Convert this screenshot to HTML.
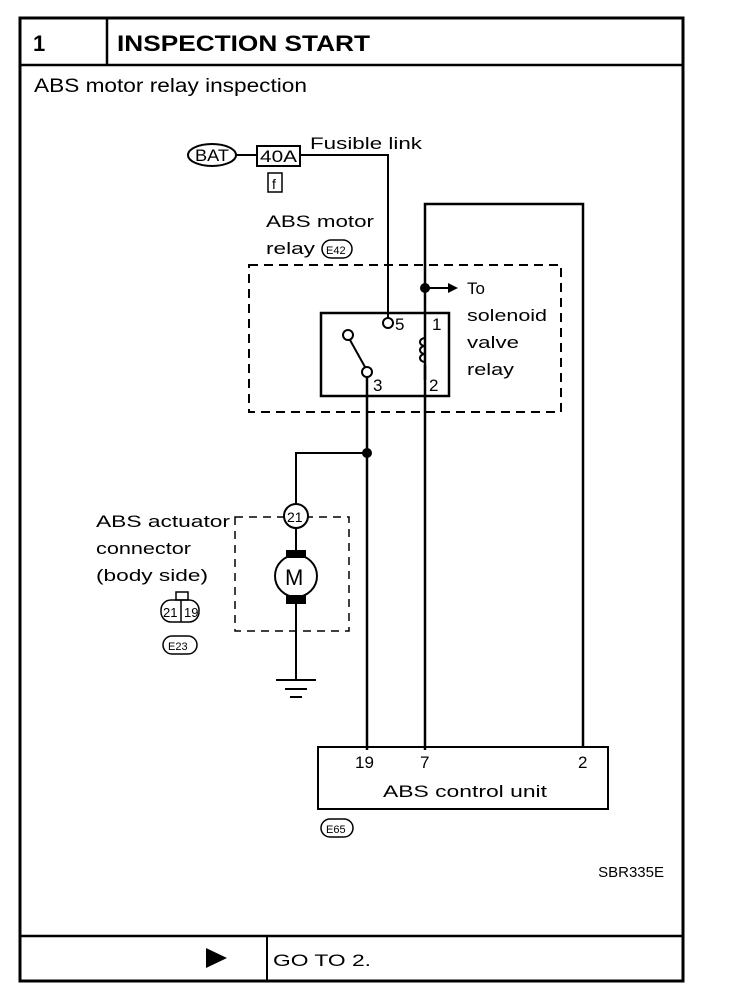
<!DOCTYPE html>
<html><head><style>
body{margin:0;background:#fff;}
svg{display:block;font-family:"Liberation Sans",sans-serif;}
</style></head><body>
<svg width="736" height="998" viewBox="0 0 736 998" xmlns="http://www.w3.org/2000/svg">
<g fill="none" stroke="#000">
<rect x="20" y="18" width="663" height="963" stroke-width="3"/>
<line x1="20" y1="65" x2="683" y2="65" stroke-width="2.5"/>
<line x1="107" y1="18" x2="107" y2="65" stroke-width="2.5"/>
<line x1="20" y1="936" x2="683" y2="936" stroke-width="2.5"/>
<line x1="267" y1="936" x2="267" y2="981" stroke-width="2"/>
</g>
<text x="33" y="51" font-size="22" font-weight="bold">1</text>
<text x="117" y="51" font-size="22" font-weight="bold" textLength="253" lengthAdjust="spacingAndGlyphs">INSPECTION START</text>
<text x="34" y="92" font-size="19" textLength="273" lengthAdjust="spacingAndGlyphs">ABS motor relay inspection</text>
<polygon points="206,948 227,958 206,968" fill="#000"/>
<text x="273" y="966" font-size="17" textLength="98" lengthAdjust="spacingAndGlyphs">GO TO 2.</text>

<g fill="none" stroke="#000" stroke-width="2">
<ellipse cx="212" cy="155" rx="24" ry="11"/>
<line x1="236" y1="155" x2="257" y2="155"/>
<rect x="257" y="146" width="43" height="20"/>
<rect x="268" y="173" width="14" height="19" stroke-width="1.5"/>
<polyline points="300,155 388,155 388,318"/>
<polyline points="425,380 425,204 583,204 583,748" stroke-width="2.5"/>
<rect x="249" y="265" width="312" height="147" stroke-dasharray="9,6"/>
<rect x="321" y="313" width="128" height="83" stroke-width="2.5"/>
<line x1="425" y1="365" x2="425" y2="750" stroke-width="2.5"/>
<line x1="367" y1="377" x2="367" y2="750" stroke-width="2.5"/>
<path d="M425,338 a5,4 0 0 0 0,8 a5,4 0 0 0 0,8 a5,4 0 0 0 0,8" />
<line x1="425" y1="288" x2="452" y2="288"/>
<polyline points="367,453 296,453 296,504"/>
<rect x="235" y="517" width="114" height="114" stroke-dasharray="8,6" stroke-width="1.5"/>
<line x1="296" y1="528" x2="296" y2="552"/>
<line x1="296" y1="604" x2="296" y2="680"/>
<line x1="276" y1="680" x2="316" y2="680"/>
<line x1="285" y1="689" x2="307" y2="689"/>
<line x1="290" y1="697" x2="302" y2="697"/>
<rect x="176" y="592" width="12" height="8" stroke-width="1.5"/>
<rect x="161" y="600" width="38" height="22" rx="10" stroke-width="1.5"/>
<line x1="181" y1="600" x2="181" y2="622" stroke-width="1.5"/>
<rect x="163" y="636" width="34" height="18" rx="9" stroke-width="1.5"/>
<rect x="322" y="240" width="30" height="18" rx="9" stroke-width="1.5"/>
<rect x="318" y="747" width="290" height="62" stroke-width="2"/>
<rect x="321" y="819" width="32" height="18" rx="9" stroke-width="1.5"/>
</g>
<g fill="#fff" stroke="#000" stroke-width="2">
<circle cx="388" cy="323" r="5"/>
<circle cx="348" cy="335" r="5"/>
<circle cx="367" cy="372" r="5"/>
<line x1="350" y1="340" x2="365" y2="367"/>
<circle cx="296" cy="516" r="12"/>
<circle cx="296" cy="576" r="21"/>
</g>
<rect x="286" y="550" width="20" height="8" fill="#000"/>
<rect x="286" y="595" width="20" height="9" fill="#000"/>
<circle cx="425" cy="288" r="5" fill="#000"/>
<circle cx="367" cy="453" r="5" fill="#000"/>
<polygon points="448,283 458,288 448,293" fill="#000"/>
<g font-size="17">
<text x="195" y="161" textLength="34" lengthAdjust="spacingAndGlyphs">BAT</text>
<text x="260" y="162" textLength="37" lengthAdjust="spacingAndGlyphs">40A</text>
<text x="272" y="189" font-size="14">f</text>
<text x="310" y="149" textLength="112" lengthAdjust="spacingAndGlyphs">Fusible link</text>
<text x="266" y="227" textLength="108" lengthAdjust="spacingAndGlyphs">ABS motor</text>
<text x="266" y="254" textLength="49" lengthAdjust="spacingAndGlyphs">relay</text>
<text x="326" y="254" font-size="11">E42</text>
<text x="467" y="294">To</text>
<text x="467" y="321" textLength="80" lengthAdjust="spacingAndGlyphs">solenoid</text>
<text x="467" y="348" textLength="52" lengthAdjust="spacingAndGlyphs">valve</text>
<text x="467" y="375" textLength="47" lengthAdjust="spacingAndGlyphs">relay</text>
<text x="395" y="330">5</text>
<text x="432" y="330">1</text>
<text x="373" y="391">3</text>
<text x="429" y="391">2</text>
<text x="287" y="522" font-size="14">21</text>
<text x="285" y="585" font-size="22">M</text>
<text x="96" y="527" textLength="134" lengthAdjust="spacingAndGlyphs">ABS actuator</text>
<text x="96" y="554" textLength="95" lengthAdjust="spacingAndGlyphs">connector</text>
<text x="96" y="581" textLength="112" lengthAdjust="spacingAndGlyphs">(body side)</text>
<text x="163" y="617" font-size="13">21</text>
<text x="184" y="617" font-size="13">19</text>
<text x="168" y="650" font-size="11">E23</text>
<text x="355" y="768">19</text>
<text x="420" y="768">7</text>
<text x="578" y="768">2</text>
<text x="383" y="797" textLength="164" lengthAdjust="spacingAndGlyphs">ABS control unit</text>
<text x="326" y="833" font-size="11">E65</text>
<text x="664" y="877" text-anchor="end" font-size="15">SBR335E</text>
</g>
</svg>
</body></html>
